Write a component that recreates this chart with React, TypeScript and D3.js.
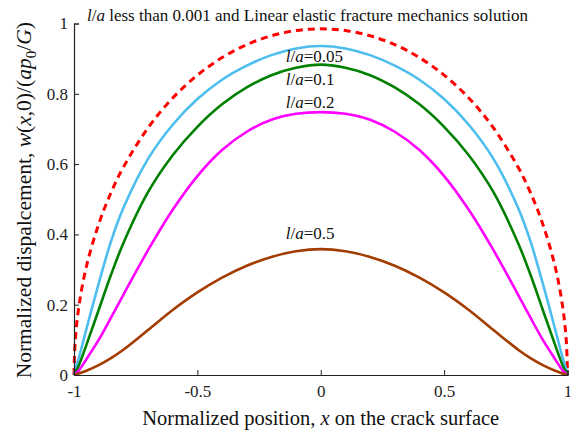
import React, { useEffect, useRef } from "react";
import * as d3 from "d3";

const width = 570;
const height = 438;
const margin = { top: 23.5, right: 2.5, bottom: 63, left: 74 };

const fontFamily = "Liberation Serif, Times New Roman, Times, serif";

// x positions on the crack surface (normalized)
const xs = [
  -1, -0.995, -0.98, -0.95, -0.9, -0.85, -0.8, -0.7, -0.6, -0.5, -0.4, -0.3, -0.2, -0.1, 0,
  0.1, 0.2, 0.3, 0.4, 0.5, 0.6, 0.7, 0.8, 0.85, 0.9, 0.95, 0.98, 0.995, 1,
];

// l/a < 0.001 and LEFM solution (dashed)
const lefm = [
  0, 0.098, 0.196, 0.308, 0.429, 0.519, 0.591, 0.703, 0.788, 0.853, 0.903, 0.94, 0.965, 0.98, 0.985,
  0.98, 0.965, 0.94, 0.903, 0.853, 0.788, 0.703, 0.591, 0.519, 0.429, 0.308, 0.196, 0.098, 0,
];
// l/a = 0.05
const la005 = [
  0, 0.015, 0.05, 0.13, 0.26, 0.38, 0.475, 0.615, 0.712, 0.785, 0.84, 0.88, 0.91, 0.929, 0.936,
  0.929, 0.91, 0.88, 0.84, 0.785, 0.712, 0.615, 0.475, 0.38, 0.26, 0.13, 0.05, 0.015, 0,
];
// l/a = 0.1
const la01 = [
  0, 0.007, 0.028, 0.085, 0.185, 0.285, 0.375, 0.52, 0.625, 0.706, 0.77, 0.818, 0.853, 0.874, 0.883,
  0.874, 0.853, 0.818, 0.77, 0.706, 0.625, 0.52, 0.375, 0.285, 0.185, 0.085, 0.028, 0.007, 0,
];
// l/a = 0.2
const la02 = [
  0, 0.003, 0.013, 0.045, 0.1, 0.163, 0.228, 0.355, 0.47, 0.566, 0.64, 0.692, 0.726, 0.743, 0.748,
  0.743, 0.726, 0.692, 0.64, 0.566, 0.47, 0.355, 0.228, 0.163, 0.1, 0.045, 0.013, 0.003, 0,
];
// l/a = 0.5
const la05 = [
  0, 0.001, 0.004, 0.012, 0.028, 0.048, 0.072, 0.128, 0.185, 0.235, 0.277, 0.311, 0.336, 0.352, 0.358,
  0.352, 0.336, 0.311, 0.277, 0.235, 0.185, 0.128, 0.072, 0.048, 0.028, 0.012, 0.004, 0.001, 0,
];

const xTicks = [-1, -0.5, 0, 0.5, 1];
const yTicks = [0, 0.2, 0.4, 0.6, 0.8, 1];

const series = [
  { name: "lefm", values: lefm, color: "#ff0000", dash: "7,5" },
  { name: "0.05", values: la005, color: "#4dbeee", dash: null },
  { name: "0.1", values: la01, color: "#008000", dash: null },
  { name: "0.2", values: la02, color: "#ff00ff", dash: null },
  { name: "0.5", values: la05, color: "#a33c00", dash: null },
];

// curve labels (text baseline in data units)
const labelValues = ["0.05", "0.1", "0.2", "0.5"];
const labelY = [0.89, 0.825, 0.76, 0.387];
const labelX = -0.142;

const innerWidth = width - margin.left - margin.right;
const innerHeight = height - margin.top - margin.bottom;

const xScale = d3.scaleLinear().domain([-1, 1]).range([0, innerWidth]);
const yScale = d3.scaleLinear().domain([0, 1]).range([innerHeight, 0]);

const lineGen = (vals: number[]) =>
  d3
    .line<number>()
    .x((_, i) => xScale(xs[i]))
    .y((d) => yScale(d))
    .curve(d3.curveCatmullRom.alpha(0.5))(vals) || "";

const XAxis = () => {
  const ref = useRef<SVGGElement>(null);
  useEffect(() => {
    const g = d3.select(ref.current);
    g.call(
      d3
        .axisBottom(xScale)
        .tickValues(xTicks)
        .tickSize(-5)
        .tickPadding(10)
        .tickFormat((d) => String(d))
    );
    g.select(".domain").attr("stroke", "#222").attr("stroke-width", 1.2);
    g.selectAll(".tick line").attr("stroke", "#222");
    g.selectAll(".tick text")
      .style("font-family", fontFamily)
      .style("font-size", "17px")
      .attr("fill", "#222");
  }, []);
  return <g ref={ref} transform={`translate(0,${innerHeight})`} />;
};

const YAxis = () => {
  const ref = useRef<SVGGElement>(null);
  useEffect(() => {
    const g = d3.select(ref.current);
    g.call(
      d3
        .axisLeft(yScale)
        .tickValues(yTicks)
        .tickSize(-5)
        .tickPadding(6)
        .tickFormat((d) => String(d))
    );
    g.select(".domain").attr("stroke", "#222").attr("stroke-width", 1.2);
    g.selectAll(".tick line").attr("stroke", "#222");
    g.selectAll(".tick text")
      .style("font-family", fontFamily)
      .style("font-size", "17px")
      .attr("fill", "#222");
  }, []);
  return <g ref={ref} />;
};

export default function App() {
  return (
    <div style={{ position: "fixed", left: 0, top: 0 }}>
      <svg
        width={width}
        height={height}
        style={{ display: "block", background: "#fff", fontFamily }}
      >
        <g transform={`translate(${margin.left},${margin.top})`}>
          {series.map((s) => (
            <path
              key={s.name}
              d={lineGen(s.values)}
              fill="none"
              stroke={s.color}
              strokeWidth={s.dash ? 3 : 2.6}
              strokeDasharray={s.dash || undefined}
            />
          ))}
          <XAxis />
          <YAxis />

          <text x={13} y={-2.5} style={{ fontFamily, fontSize: 17 }} fill="#111">
            <tspan fontStyle="italic">l</tspan>/<tspan fontStyle="italic">a</tspan> less than 0.001 and Linear elastic fracture mechanics solution
          </text>

          {labelValues.map((v, i) => (
            <text
              key={v}
              x={xScale(labelX)}
              y={yScale(labelY[i])}
              style={{ fontFamily, fontSize: 17 }}
              fill="#111"
            >
              <tspan fontStyle="italic">l</tspan>/<tspan fontStyle="italic">a</tspan>={v}
            </text>
          ))}
        </g>

        <text
          x={margin.left + xScale(0)}
          y={425}
          textAnchor="middle"
          style={{ fontFamily, fontSize: 20.5 }}
          fill="#111"
        >
          Normalized position, <tspan fontStyle="italic">x</tspan> on the crack surface
        </text>

        <text
          transform={`translate(31,${margin.top + innerHeight / 2 + 1}) rotate(-90)`}
          textAnchor="middle"
          style={{ fontFamily, fontSize: 21.5 }}
          fill="#111"
        >
          Normalized dispalcement, <tspan fontStyle="italic">w</tspan>(<tspan fontStyle="italic">x</tspan>,0)/(
          <tspan fontStyle="italic">ap</tspan>
          <tspan fontSize={15} dy={5}>0</tspan>
          <tspan dy={-5}>/</tspan>
          <tspan fontStyle="italic">G</tspan>)
        </text>
      </svg>
    </div>
  );
}
